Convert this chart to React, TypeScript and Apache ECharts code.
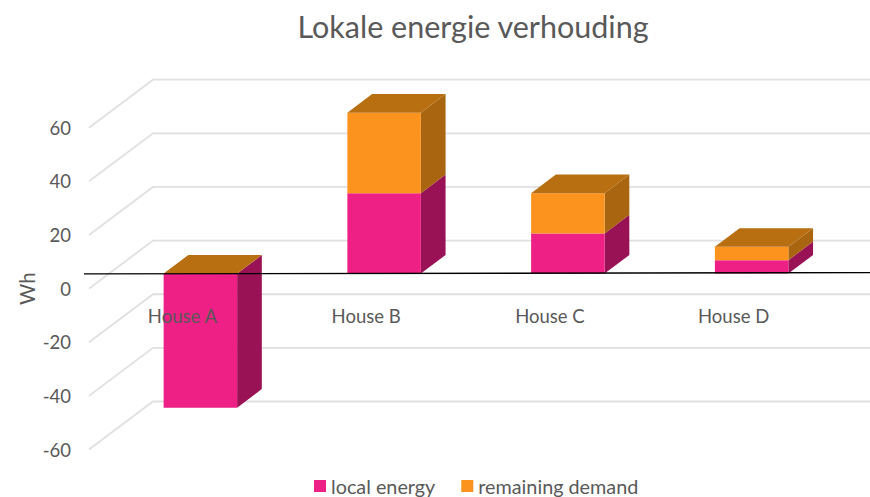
import React, { useEffect, useRef } from "react";
import * as echarts from "echarts";

const titleText = "Lokale energie verhouding";
const axisName = "Wh";
const categories = ["House A", "House B", "House C", "House D"];
const localEnergy = [-50, 30, 15, 5];
const remainingDemand = [0, 30, 15, 5];
const tickValues = [-60, -40, -20, 0, 20, 40, 60];

const FONT = "Lato, Carlito, 'Open Sans', sans-serif";
const TEXT = "#595959";
const WALL_DX = 64;
const WALL_DY = 48;
const BAR_SHIFT_X = 19.5;
const BAR_SHIFT_Y = 15;
const DEPTH_DX = 24.7;
const DEPTH_DY = 18.6;

function barRenderer(front: string, side: string, top: string | null) {
  return (_params: any, api: any) => {
    const idx = api.value(0);
    const p0 = api.coord([idx, api.value(1)]);
    const p1 = api.coord([idx, api.value(2)]);
    const w = api.size([1, 0])[0] * 0.4;
    const xl = p0[0] - w / 2 + BAR_SHIFT_X;
    const xr = xl + w;
    const yb = Math.max(p0[1], p1[1]) - BAR_SHIFT_Y;
    const yt = Math.min(p0[1], p1[1]) - BAR_SHIFT_Y;
    const children: any[] = [];
    children.push({
      type: "polygon",
      shape: { points: [[xr, yb], [xr + DEPTH_DX, yb - DEPTH_DY], [xr + DEPTH_DX, yt - DEPTH_DY], [xr, yt]] },
      style: { fill: side },
    });
    children.push({
      type: "rect",
      shape: { x: xl, y: yt, width: w, height: yb - yt },
      style: { fill: front },
    });
    if (top) {
      children.push({
        type: "polygon",
        shape: { points: [[xl, yt], [xl + DEPTH_DX, yt - DEPTH_DY], [xr + DEPTH_DX, yt - DEPTH_DY], [xr, yt]] },
        style: { fill: top },
      });
    }
    return { type: "group", children };
  };
}

export default function App() {
  const ref = useRef<HTMLDivElement>(null);
  useEffect(() => {
    const chart = echarts.init(ref.current!, undefined, { renderer: "svg" });
    const localData = categories.map((_, i) => [i, 0, localEnergy[i]]);
    const demandData = categories.map((_, i) => {
      const base = Math.max(0, localEnergy[i]);
      return [i, base, base + remainingDemand[i]];
    });
    chart.setOption({
      animation: false,
      backgroundColor: "#ffffff",
      title: {
        text: titleText,
        left: 468,
        top: 5,
        textAlign: "center",
        textStyle: { fontFamily: FONT, fontSize: 30.5, fontWeight: "normal", color: TEXT },
      },
      legend: {
        left: 309,
        top: 471,
        data: ["local energy", "remaining demand"],
        icon: "rect",
        itemWidth: 12,
        itemHeight: 12,
        itemGap: 26,
        textStyle: { fontFamily: FONT, fontSize: 19.8, color: TEXT },
      },
      grid: { left: 89, width: 735, top: 127.7, height: 321.8 },
      xAxis: {
        type: "category",
        data: categories,
        z: 10,
        axisLine: { show: false },
        axisTick: { show: false },
        splitLine: { show: false },
        axisLabel: { margin: -143, padding: [0, 0, 0, 3], fontFamily: FONT, fontSize: 18.5, color: TEXT },
      },
      yAxis: {
        type: "value",
        min: -60,
        max: 60,
        interval: 20,
        name: axisName,
        nameLocation: "middle",
        nameGap: 52,
        nameMoveOverlap: false,
        nameTextStyle: { fontFamily: FONT, fontSize: 20.5, color: TEXT },
        axisLine: { show: false },
        axisTick: { show: false },
        splitLine: { show: false },
        axisLabel: { margin: 18, fontFamily: FONT, fontSize: 18.5, color: TEXT },
      },
      series: [
        {
          type: "custom",
          name: "walls",
          silent: true,
          z: 1,
          data: tickValues.map((v) => [v]),
          encode: { y: 0 },
          renderItem: (params: any, api: any) => {
            const y = api.coord([0, api.value(0)])[1];
            const x = params.coordSys.x;
            return {
              type: "polyline",
              shape: { points: [[x, y], [x + WALL_DX, y - WALL_DY], [870, y - WALL_DY]] },
              style: { fill: "none", stroke: "#E0E0E0", lineWidth: 1.8 },
            };
          },
        },
        {
          type: "custom",
          name: "local energy",
          z: 3,
          itemStyle: { color: "#EE1F85" },
          data: localData,
          encode: { x: 0, y: [1, 2] },
          renderItem: barRenderer("#EE1F85", "#9A1256", null),
        },
        {
          type: "custom",
          name: "remaining demand",
          z: 4,
          itemStyle: { color: "#FB931E" },
          data: demandData,
          encode: { x: 0, y: [1, 2] },
          renderItem: barRenderer("#FB931E", "#A9650F", "#B86F11"),
        },
        {
          type: "custom",
          name: "baseline",
          silent: true,
          z: 6,
          data: [[0]],
          encode: { y: 0 },
          renderItem: (_params: any, api: any) => {
            const y = api.coord([0, api.value(0)])[1] - BAR_SHIFT_Y;
            return {
              type: "line",
              shape: { x1: 84, y1: y + 0.3, x2: 870, y2: y - 1 },
              style: { stroke: "#000000", lineWidth: 1.4 },
            };
          },
        },
      ],
    });
    return () => chart.dispose();
  }, []);
  return <div ref={ref} style={{ position: "absolute", left: 0, top: 0, width: 870, height: 497 }} />;
}
